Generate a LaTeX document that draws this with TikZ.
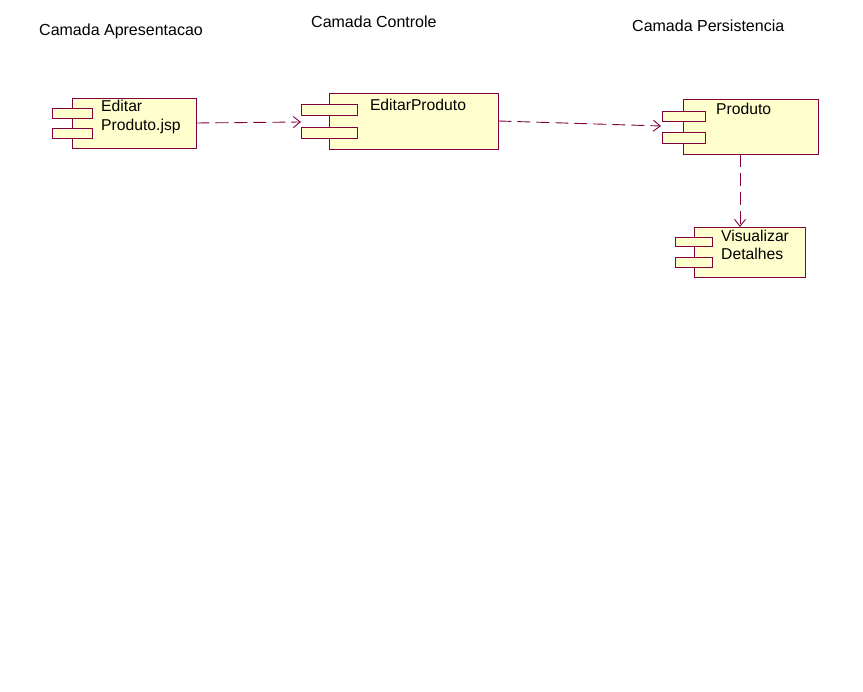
\documentclass[tikz,border=0pt]{standalone}
\usepackage{fontspec}
\setmainfont{Liberation Sans}
\usetikzlibrary{arrows.meta}
\definecolor{umlfill}{RGB}{255,255,206}
\definecolor{umlline}{RGB}{128,0,64}
\tikzset{
  comp/.style={draw=umlline, fill=umlfill, line width=0.9pt, rectangle, inner sep=0pt},
  port/.style={draw=umlline, fill=umlfill, line width=0.9pt},
  lbl/.style={anchor=base west, inner sep=0pt, font=\fontsize{15.7}{19}\selectfont},
  head/.style={lbl, font=\fontsize{16}{19}\selectfont},
  dep/.style={draw=umlline, line width=0.9pt, dash pattern=on 13pt off 6pt,
    -{Straight Barb[length=7pt, width=11pt, line width=0.9pt]}},
}
\begin{document}
\begin{tikzpicture}[x=1pt, y=-1pt]
\useasboundingbox[fill=white] (0,0) rectangle (863,692);

% layer headings
\node[head] (h1) at (39,36) {Camada Apresentacao};
\node[head] (h2) at (311,28) {Camada Controle};
\node[head] (h3) at (632,32) {Camada Persistencia};

% component: Editar Produto.jsp
\node[comp, minimum width=124pt, minimum height=50pt] (c1) at (134,123) {};
\draw[port] (52,108) rectangle (92,118);
\draw[port] (52,128) rectangle (92,138);
\node[lbl] (t1a) at (101,112) {Editar};
\node[lbl] (t1b) at (101,131) {Produto.jsp};

% component: EditarProduto
\node[comp, minimum width=169pt, minimum height=56pt] (c2) at (413.5,121) {};
\draw[port] (301,104) rectangle (357,115);
\draw[port] (301,127) rectangle (357,138);
\node[lbl, anchor=base] (t2) at (418,111) {EditarProduto};
\coordinate (c2in) at (301,122);

% component: Produto
\node[comp, minimum width=135pt, minimum height=55pt] (c3) at (750.5,126.5) {};
\draw[port] (662,111) rectangle (705,121);
\draw[port] (662,132) rectangle (705,143);
\node[lbl] (t3) at (716,115) {Produto};
\coordinate (c3in) at (661,126);
\coordinate (c3out) at (740,154);

% component: Visualizar Detalhes
\node[comp, minimum width=111pt, minimum height=50pt] (c4) at (749.5,252) {};
\draw[port] (675,237) rectangle (712,246);
\draw[port] (675,257) rectangle (712,267);
\node[lbl] (t4a) at (721,242) {Visualizar};
\node[lbl] (t4b) at (721,260) {Detalhes};
\coordinate (c4in) at (740,227);

% dependencies
\draw[dep] (c1.east) -- (c2in);
\draw[dep] (c2.east) -- (c3in);
\draw[dep] (c3out) -- (c4in);
\end{tikzpicture}
\end{document}
